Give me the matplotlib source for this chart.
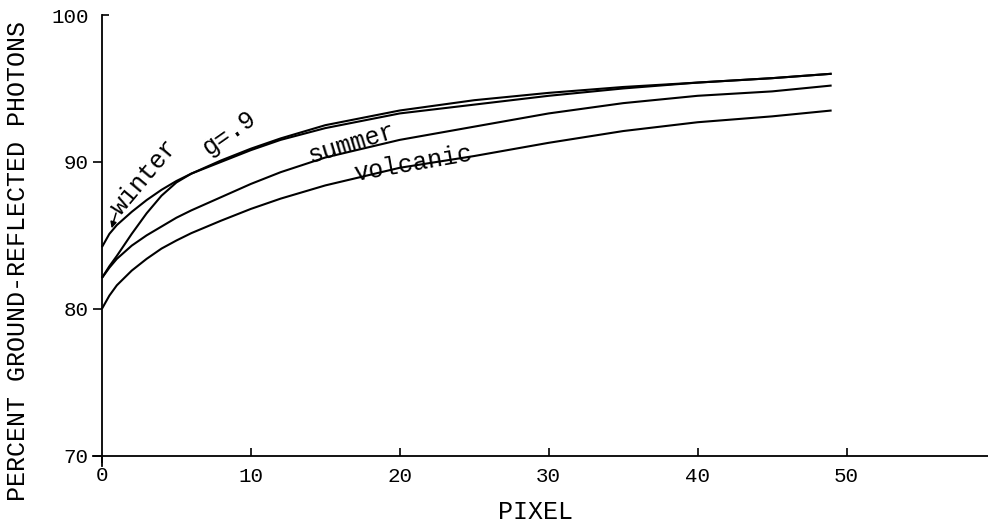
import matplotlib.pyplot as plt
import numpy as np

plt.rcParams['font.family'] = ['Liberation Mono', 'DejaVu Sans Mono']

# pixel index along the scan
pixel = [0, 0.5, 1, 2, 3, 4, 5, 6, 8, 10, 12, 15, 20, 25, 30, 35, 40, 45, 49]

# percent ground-reflected photons
winter = [84.2, 85.1, 85.7, 86.6, 87.4, 88.1, 88.7, 89.2, 90.1, 90.9, 91.6, 92.5, 93.5, 94.2, 94.7, 95.1, 95.4, 95.7, 96.0]
g09 = [82.1, 82.9, 83.6, 85.1, 86.5, 87.7, 88.6, 89.2, 90.0, 90.8, 91.5, 92.3, 93.3, 93.9, 94.5, 95.0, 95.4, 95.7, 96.0]
summer = [82.1, 82.8, 83.4, 84.3, 85.0, 85.6, 86.2, 86.7, 87.6, 88.5, 89.3, 90.3, 91.5, 92.4, 93.3, 94.0, 94.5, 94.8, 95.2]
volcanic = [80.0, 80.9, 81.6, 82.6, 83.4, 84.1, 84.65, 85.15, 86.0, 86.8, 87.5, 88.4, 89.6, 90.4, 91.3, 92.1, 92.7, 93.1, 93.5]

fig = plt.figure(figsize=(9.88, 5.28), dpi=100)
ax = fig.add_axes([93 / 988, 62 / 528, 895 / 988, 451 / 528])

# draw the four curves
for series in (winter, g09, summer, volcanic):
	ax.plot(pixel, series, color='black', lw=1.5, solid_capstyle='butt')

ax.set_xlim(-0.6, 59.5)
ax.set_ylim(69.3, 100)

# axes cross at (0, 70) like the original plot
ax.spines['left'].set_position(('data', 0))
ax.spines['bottom'].set_position(('data', 70))
ax.spines['top'].set_visible(False)
ax.spines['right'].set_visible(False)
for s in ('left', 'bottom'):
	ax.spines[s].set_linewidth(1.3)

# y ticks point out, x ticks point in; 100 and 0 are the odd ones
ax.set_yticks([70, 80, 90])
ax.set_yticks([100], labels=['100'], minor=True)
ax.set_xticks([10, 20, 30, 40, 50])
ax.set_xticks([0], labels=['0'], minor=True)
ax.tick_params(axis='y', which='major', direction='out', length=6.5, width=1.2, pad=3, labelsize=15)
ax.tick_params(axis='y', which='minor', direction='in', length=5, width=1.2, pad=9.5, labelsize=15)
ax.tick_params(axis='x', which='major', direction='in', length=5.5, width=1.2, pad=8, labelsize=15)
ax.tick_params(axis='x', which='minor', direction='out', length=5, width=1.2, pad=2.5, labelsize=15)

# axis titles placed on the figure
fig.text(535 / 988, 1 - 512 / 528, 'PIXEL', fontsize=18, ha='center', va='center')
fig.text(18 / 988, 1 - 261 / 528, 'PERCENT GROUND-REFLECTED PHOTONS', fontsize=18,
	rotation=90, ha='center', va='center')

# curve labels
ax.text(2.85, 89.0, 'winter', rotation=50, fontsize=18, ha='center', va='center',
	rotation_mode='anchor')
ax.annotate('', xy=(0.6, 85.3), xytext=(1.0, 86.7),
	arrowprops=dict(arrowstyle='-|>', color='black', lw=1.1, mutation_scale=9))
ax.text(8.5, 92.0, 'g=.9', rotation=35, fontsize=18, ha='center', va='center',
	rotation_mode='anchor')
ax.text(16.8, 91.3, 'summer', rotation=17, fontsize=18, ha='center', va='center',
	rotation_mode='anchor')
ax.text(20.9, 89.9, 'volcanic', rotation=10, fontsize=18, ha='center', va='center',
	rotation_mode='anchor')

fig.savefig('out.png', dpi=100)
